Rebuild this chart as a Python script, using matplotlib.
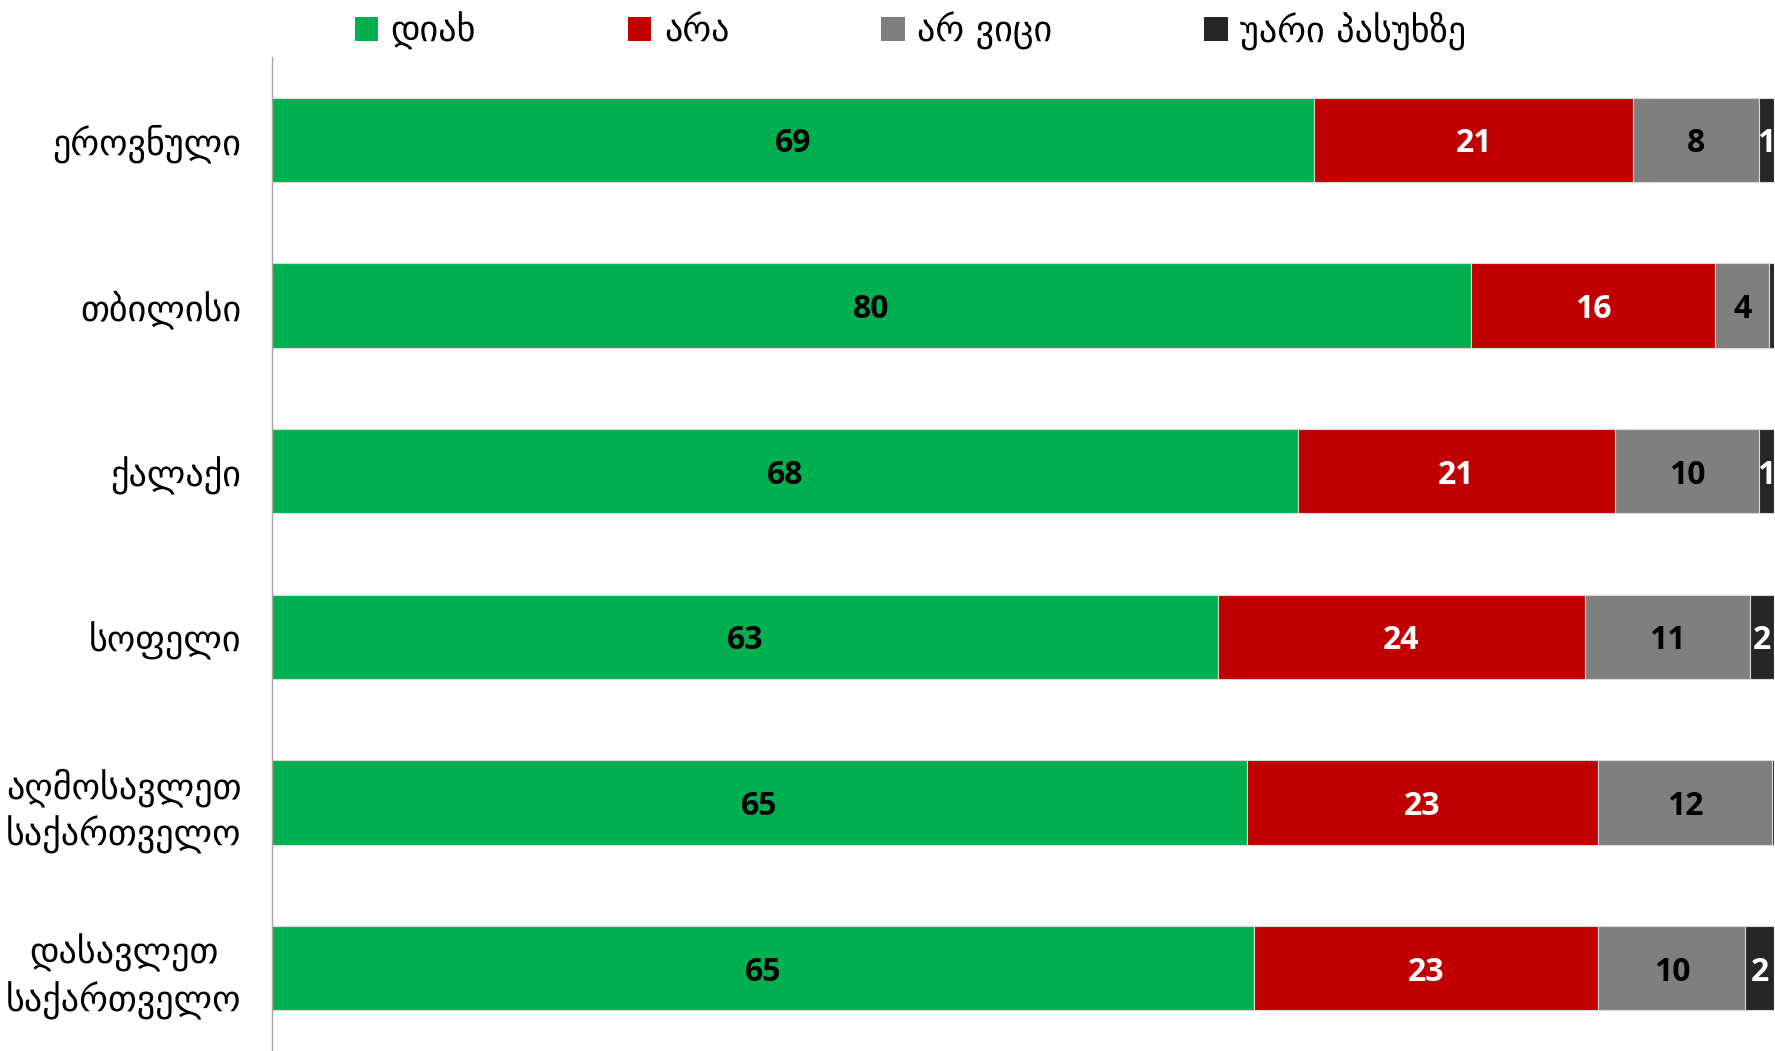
import matplotlib
matplotlib.use("Agg")
import matplotlib.pyplot as plt
from matplotlib.patches import Patch

# data (percent)
categories = ["ეროვნული", "თბილისი", "ქალაქი", "სოფელი",
              "აღმოსავლეთ\nსაქართველო", "დასავლეთ\nსაქართველო"]
yes = [69.4, 79.8, 68.3, 63.0, 64.9, 65.4]
no = [21.2, 16.3, 21.1, 24.4, 23.4, 22.9]
dont_know = [8.4, 3.6, 9.6, 11.0, 11.6, 9.8]
refused = [1.0, 0.3, 1.0, 1.6, 0.1, 1.9]

series_names = ["დიახ", "არა", "არ ვიცი", "უარი პასუხზე"]
series = [yes, no, dont_know, refused]
colors = ["#00B050", "#C00000", "#7F7F7F", "#262626"]
label_colors = ["black", "white", "black", "white"]

fig = plt.figure(figsize=(17.75, 10.51), dpi=100)
ax = fig.add_axes([272 / 1775, 0.0, 1 - 273 / 1775, 1 - 57 / 1051])

y = range(len(categories))
left = [0.0] * len(categories)
for vals, col, lcol in zip(series, colors, label_colors):
    ax.barh(y, vals, left=left, height=0.51, color=col,
            edgecolor="#D9D9D9", linewidth=0.8)
    for i, v in enumerate(vals):
        if v >= 0.5:
            ax.text(left[i] + v / 2, i, f"{v:.0f}", ha="center",
                    va="center_baseline", color=lcol, fontsize=23,
                    fontweight="bold", family="Open Sans")
    left = [a + b for a, b in zip(left, vals)]

ax.set_xlim(0, 100)
ax.set_ylim(5.5, -0.5)
ax.set_yticks(list(y))
ax.set_yticklabels(categories, fontsize=26, family="DejaVu Sans",
                   ha="right", multialignment="center", linespacing=1.3)
ax.tick_params(axis="y", length=0, pad=22)
ax.set_xticks([])
for s in ["top", "right", "bottom"]:
    ax.spines[s].set_visible(False)
ax.spines["left"].set_color("#A6A6A6")
ax.spines["left"].set_linewidth(1.0)

# legend across the top
handles = [Patch(facecolor=c, edgecolor="none") for c in colors]
fig.legend(handles, series_names, loc="upper left",
           bbox_to_anchor=(322 / 1775, 1.02), ncol=4, frameon=False,
           fontsize=26, handlelength=0.65, handleheight=0.65,
           handletextpad=0.35, columnspacing=4.2)

fig.savefig("out.png", dpi=100)
